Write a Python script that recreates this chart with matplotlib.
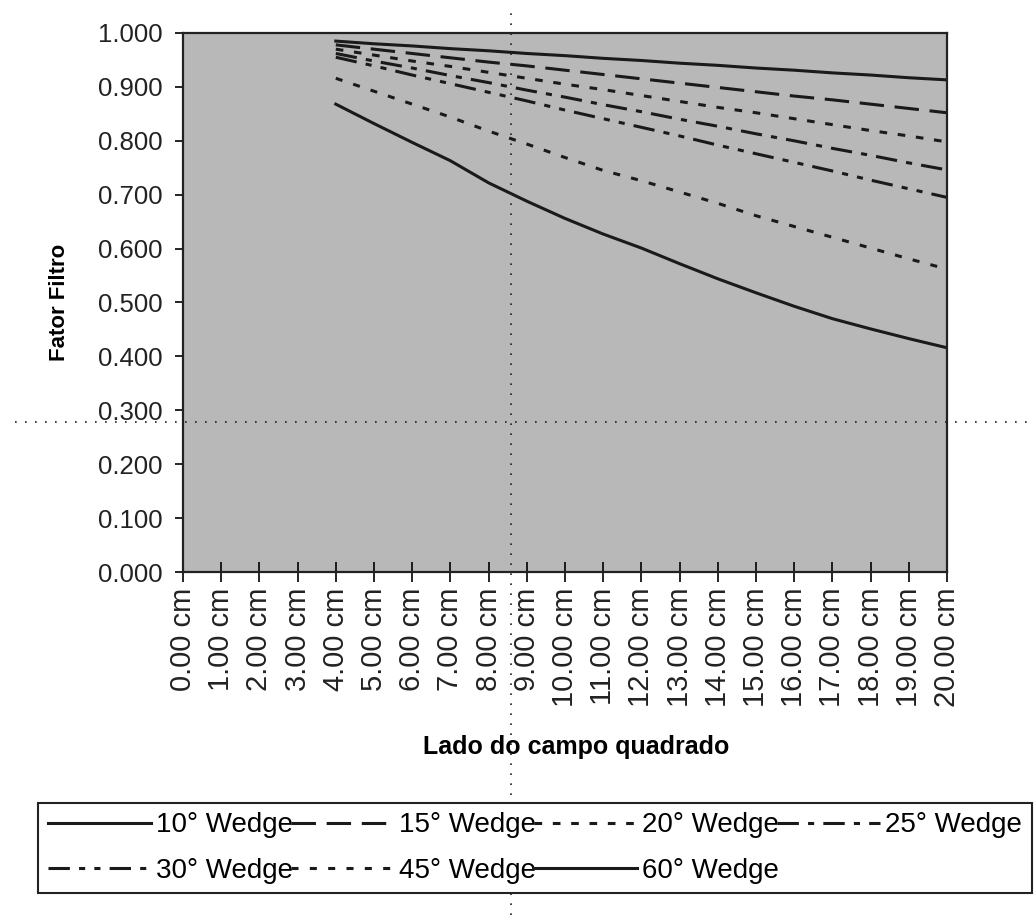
import matplotlib
matplotlib.use('Agg')
import matplotlib.pyplot as plt
from matplotlib.lines import Line2D

plt.rcParams['font.family'] = ['Liberation Sans', 'DejaVu Sans']

# lado do campo (cm)
lado = [4, 5, 6, 7, 8, 9, 10, 11, 12, 13, 14, 15, 16, 17, 18, 19, 20]

w10 = [0.985, 0.980, 0.976, 0.971, 0.967, 0.962, 0.958, 0.953, 0.949,
       0.944, 0.940, 0.935, 0.931, 0.926, 0.922, 0.917, 0.913]
w15 = [0.978, 0.970, 0.962, 0.954, 0.946, 0.939, 0.931, 0.923, 0.915,
       0.907, 0.899, 0.891, 0.883, 0.876, 0.868, 0.860, 0.852]
w20 = [0.970, 0.959, 0.948, 0.938, 0.927, 0.916, 0.905, 0.895, 0.884,
       0.873, 0.862, 0.852, 0.841, 0.830, 0.819, 0.809, 0.798]
w25 = [0.962, 0.948, 0.935, 0.921, 0.908, 0.894, 0.881, 0.867, 0.854,
       0.840, 0.827, 0.813, 0.800, 0.786, 0.773, 0.759, 0.746]
w30 = [0.955, 0.939, 0.922, 0.906, 0.890, 0.874, 0.857, 0.841, 0.825,
       0.809, 0.792, 0.776, 0.760, 0.744, 0.727, 0.711, 0.695]
w45 = [0.916, 0.892, 0.868, 0.844, 0.818, 0.794, 0.769, 0.745, 0.726,
       0.705, 0.684, 0.661, 0.641, 0.621, 0.601, 0.581, 0.562]
w60 = [0.868, 0.832, 0.797, 0.763, 0.722, 0.688, 0.656, 0.627, 0.601,
       0.572, 0.544, 0.518, 0.493, 0.470, 0.451, 0.433, 0.416]

labels = ['10° Wedge', '15° Wedge', '20° Wedge', '25° Wedge',
          '30° Wedge', '45° Wedge', '60° Wedge']
series = [w10, w15, w20, w25, w30, w45, w60]
estilos = ['-', (0, (8, 3.5)), (0, (2.5, 3.5)), (0, (7, 3, 2, 3)),
           (0, (7, 3, 2, 3, 2, 3)), (0, (2.3, 3.7)), '-']

x_ticks = list(range(0, 21))
y_ticks = [0.0, 0.1, 0.2, 0.3, 0.4, 0.5, 0.6, 0.7, 0.8, 0.9, 1.0]

fig = plt.figure(figsize=(10.34, 9.21), dpi=100)
ax = fig.add_axes([183 / 1034, 1 - 572 / 921, 764 / 1034, 539 / 921])
ax.set_facecolor('#b8b8b8')

linhas = []
for y, lab, ls in zip(series, labels, estilos):
    ln, = ax.plot(lado, y, color='#1a1a1a', lw=2.2, ls=ls, label=lab)
    linhas.append(ln)

ax.set_xlim(0, 20)
ax.set_ylim(0, 1)
ax.set_xticks(x_ticks)
ax.set_xticklabels([f'{v:.2f} cm' for v in x_ticks], rotation=90, fontsize=21, color='#222222')
ax.set_yticks(y_ticks)
ax.set_yticklabels([f'{v:.3f}' for v in y_ticks], fontsize=18.5, color='#222222')
ax.tick_params(axis='x', direction='inout', length=14, width=1.2, pad=4)
ax.tick_params(axis='y', direction='out', length=5.5, width=1.2, pad=9)
for s in ax.spines.values():
    s.set_linewidth(1.6)
    s.set_color('#222222')

ax.set_ylabel('Fator Filtro', fontsize=16, fontweight='bold')
ax.yaxis.set_label_coords(-0.148, 0.5)
ax.set_xlabel('Lado do campo quadrado', fontsize=18, fontweight='bold')
ax.xaxis.set_label_coords(0.515, -0.302)

# ordem coluna a coluna para ficar 10,15,20,25 / 30,45,60 nas linhas
ordem = [0, 4, 1, 5, 2, 6, 3]
leg = fig.legend([linhas[i] for i in ordem], [labels[i] for i in ordem],
                 ncol=4, loc='center', mode='expand', borderaxespad=0,
                 bbox_to_anchor=(38 / 1034, 1 - 895 / 921, 994 / 1034, 94 / 921),
                 fontsize=20, handlelength=3.7, handletextpad=0.2,
                 columnspacing=0.4, labelspacing=0.7, borderpad=0.35,
                 fancybox=False, frameon=True, framealpha=1)
leg.get_frame().set_edgecolor('#222222')
leg.get_frame().set_linewidth(1.5)

# linhas pontilhadas do digitalizado
fig.add_artist(Line2D([511 / 1034, 511 / 1034], [1 - 915 / 921, 1 - 10 / 921],
                      transform=fig.transFigure, color='#222222', lw=1.2,
                      ls=(0, (1, 5))))
fig.add_artist(Line2D([15 / 1034, 1], [1 - 422 / 921, 1 - 422 / 921],
                      transform=fig.transFigure, color='#222222', lw=1.2,
                      ls=(0, (1, 5))))

fig.savefig('out.png', dpi=100)
